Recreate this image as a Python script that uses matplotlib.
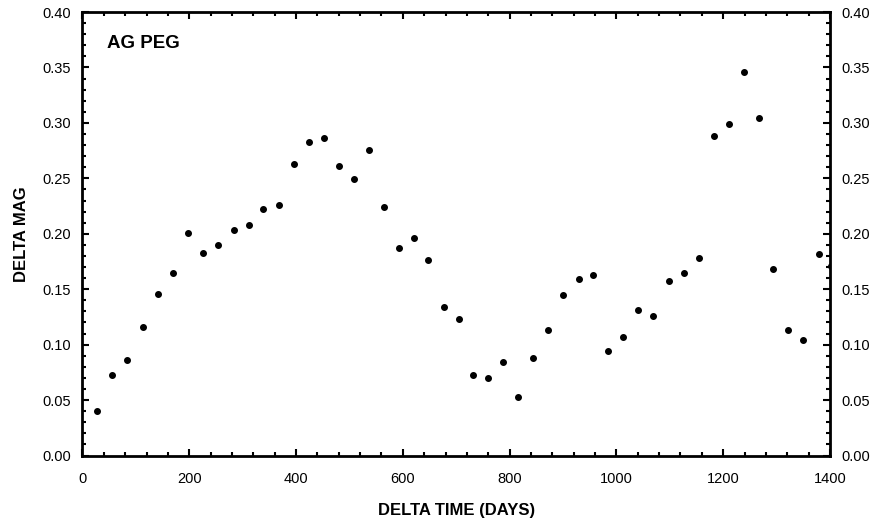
import matplotlib
matplotlib.use('Agg')
import matplotlib.pyplot as plt
from matplotlib.ticker import MultipleLocator, FormatStrFormatter

# delta time (days) and delta mag
days = [28, 56, 84, 113, 141, 170, 198, 226, 254, 283, 311, 339, 368, 396,
        424, 452, 480, 509, 537, 565, 593, 621, 648, 677, 705, 732, 760, 788,
        816, 843, 872, 900, 929, 957, 984, 1012, 1041, 1069, 1098, 1126, 1154,
        1182, 1210, 1239, 1267, 1294, 1322, 1350, 1379, 1401]
mag = [0.040, 0.073, 0.086, 0.116, 0.146, 0.165, 0.201, 0.183, 0.190, 0.203,
       0.208, 0.222, 0.226, 0.263, 0.283, 0.286, 0.261, 0.249, 0.276, 0.224,
       0.187, 0.196, 0.176, 0.134, 0.123, 0.073, 0.070, 0.084, 0.053, 0.088,
       0.113, 0.145, 0.159, 0.163, 0.094, 0.107, 0.131, 0.126, 0.157, 0.165,
       0.178, 0.288, 0.299, 0.346, 0.304, 0.168, 0.113, 0.104, 0.182, 0.171]

plt.rcParams['font.family'] = ['Liberation Sans', 'DejaVu Sans']
plt.rcParams['font.size'] = 10.5

fig = plt.figure(figsize=(8.81, 5.23), dpi=100)
ax = fig.add_axes([0.0936, 0.129, 0.8485, 0.848])

ax.scatter(days, mag, s=16, color='black', zorder=3)

ax.set_xlim(0, 1400)
ax.set_ylim(0, 0.40)
ax.xaxis.set_major_locator(MultipleLocator(200))
ax.xaxis.set_minor_locator(MultipleLocator(40))
ax.yaxis.set_major_locator(MultipleLocator(0.05))
ax.yaxis.set_minor_locator(MultipleLocator(0.01))
ax.yaxis.set_major_formatter(FormatStrFormatter('%.2f'))

ax.tick_params(which='both', direction='in', top=True, right=True,
               labelright=True, width=1.5, colors='black')
ax.tick_params(which='major', length=5)
ax.tick_params(which='minor', length=3)
ax.tick_params(axis='x', which='major', pad=12)
ax.tick_params(axis='y', which='major', pad=8)
for s in ax.spines.values():
    s.set_linewidth(2)

ax.set_xlabel('DELTA TIME (DAYS)', fontweight='bold', fontsize=12, labelpad=12)
ax.set_ylabel('DELTA MAG', fontweight='bold', fontsize=12, labelpad=10)
ax.text(0.033, 0.93, 'AG PEG', transform=ax.transAxes, fontweight='bold',
        fontsize=13.5, va='center', ha='left')

fig.savefig('out.png', dpi=100)
